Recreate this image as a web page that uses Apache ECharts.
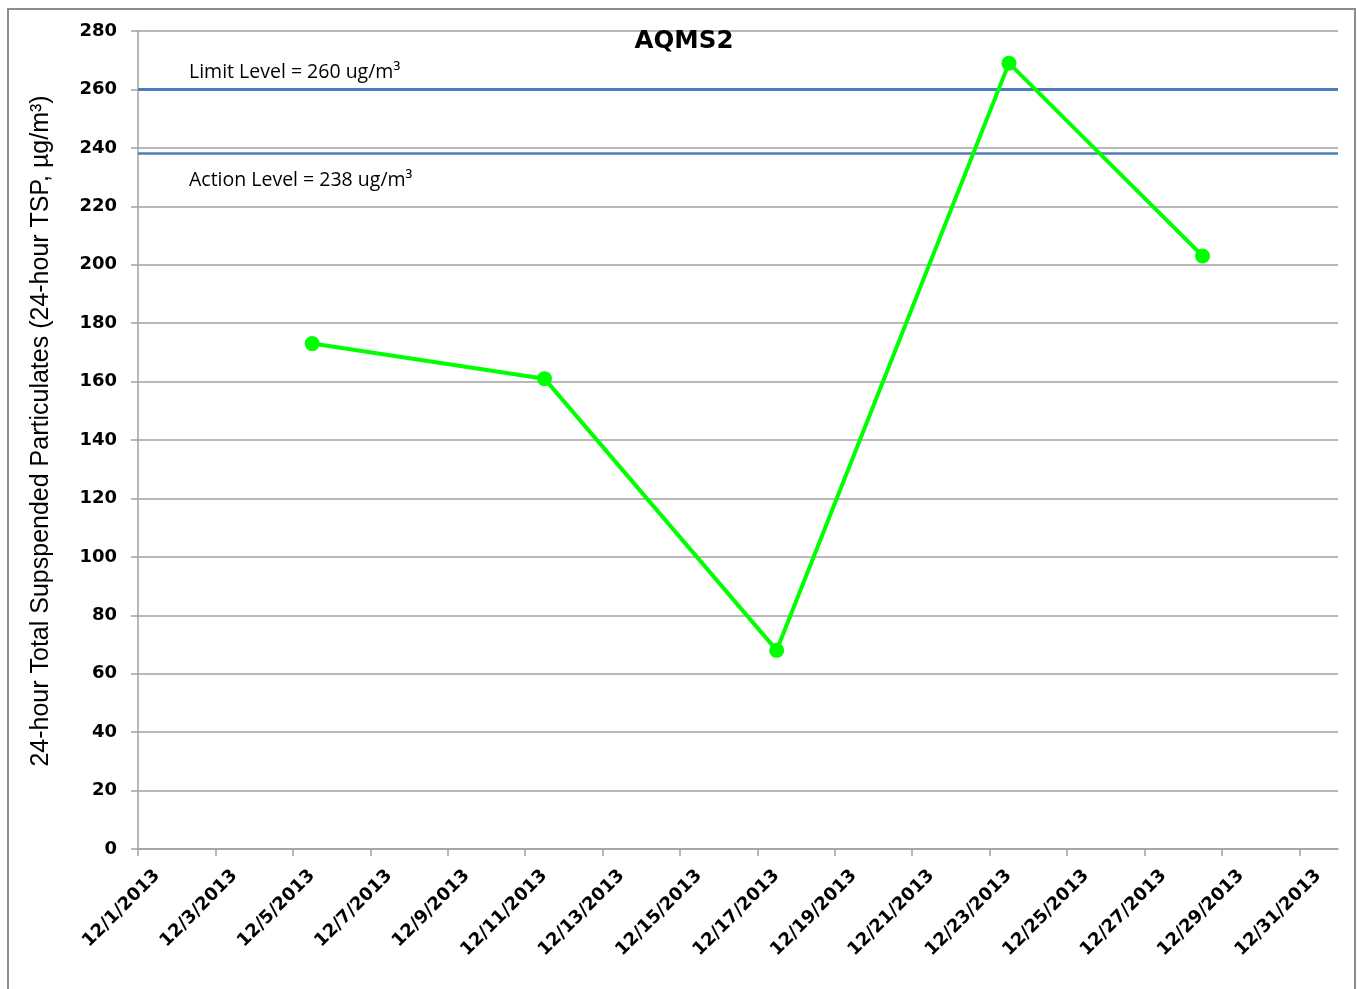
<!DOCTYPE html>
<html>
<head>
<meta charset="utf-8">
<script src="https://cdn.jsdelivr.net/npm/echarts@6/dist/echarts.min.js"></script>
<style>
html,body{margin:0;padding:0;background:#fff;}
#frame{position:absolute;left:7px;top:8px;width:1349px;height:1000px;border:2px solid #8c8c8c;box-sizing:border-box;}
#chart{position:absolute;left:0;top:0;width:1359px;height:989px;}
</style>
</head>
<body>
<div id="frame"></div>
<div id="chart"></div>
<script>
// ---- data ----
const titleText = 'AQMS2';
const sampleDates = ['2013-12-05T12:00:00Z', '2013-12-11T12:00:00Z', '2013-12-17T12:00:00Z', '2013-12-23T12:00:00Z', '2013-12-28T12:00:00Z'];
const tspValues = [173, 161, 68, 269, 203];
const limitLevel = 260;
const actionLevel = 238;
const limitLabel = 'Limit Level = 260 ug/m³';
const actionLabel = 'Action Level = 238 ug/m³';
const axisStartDate = '2013-12-01T00:00:00Z';
const axisEndDay = 31;           // 1 Jan 2014
const xTickDays = [0, 2, 4, 6, 8, 10, 12, 14, 16, 18, 20, 22, 24, 26, 28, 30];
const yTicks = [0, 20, 40, 60, 80, 100, 120, 140, 160, 180, 200, 220, 240, 260, 280];
const yAxisName = '24-hour Total Supspended Particulates (24-hour TSP, µg/m³)';

const DAY = 86400000;
const t0 = Date.parse(axisStartDate);
const dayOf = s => (Date.parse(s) - t0) / DAY;
const fmtDay = d => { const dt = new Date(t0 + d * DAY); return (dt.getUTCMonth() + 1) + '/' + dt.getUTCDate() + '/' + dt.getUTCFullYear(); };
const points = sampleDates.map((d, i) => [dayOf(d), tspValues[i]]);

const chart = echarts.init(document.getElementById('chart'));
chart.setOption({
  backgroundColor: 'transparent',
  animation: false,
  title: {
    text: titleText, left: 679, top: 24, textAlign: 'center',
    textStyle: { fontFamily: 'DejaVu Sans', fontWeight: 'bold', fontSize: 24.5, color: '#000' }
  },
  grid: { left: 138, right: 21, top: 31, bottom: 140, containLabel: false },
  xAxis: {
    type: 'value', min: 0, max: axisEndDay, interval: 2,
    splitLine: { show: false },
    axisLine: { lineStyle: { color: '#a0a0a0', width: 1.5 } },
    axisTick: { show: true, length: 7, inside: false, lineStyle: { color: '#a0a0a0', width: 1.5 }, customValues: xTickDays },
    axisLabel: {
      customValues: xTickDays,
      rotate: 45, margin: 43, padding: [0, -27, 0, 0],
      fontFamily: 'DejaVu Sans', fontWeight: 'bold', fontSize: 18, color: '#000',
      formatter: v => fmtDay(v)
    }
  },
  yAxis: {
    type: 'value', min: yTicks[0], max: yTicks[yTicks.length - 1], interval: 20,
    name: yAxisName, nameLocation: 'middle', nameGap: 84,
    nameTextStyle: { fontFamily: 'Liberation Sans', fontSize: 25, color: '#000', padding: [0, 0, 0, 18] },
    splitLine: { show: true, lineStyle: { color: '#a0a0a0', width: 1.5 } },
    axisLine: { show: true, lineStyle: { color: '#a0a0a0', width: 1.5 } },
    axisTick: { show: true, length: 7, lineStyle: { color: '#a0a0a0', width: 1.5 } },
    axisLabel: { margin: 21, fontFamily: 'DejaVu Sans', fontWeight: 'bold', fontSize: 18, color: '#000' }
  },
  series: [{
    type: 'line',
    data: points,
    symbol: 'circle', symbolSize: 15,
    lineStyle: { color: '#00ff00', width: 4 },
    itemStyle: { color: '#00ff00' },
    z: 5,
    markLine: {
      silent: true, symbol: 'none', z: 3,
      data: [
        { yAxis: limitLevel, lineStyle: { color: '#4a7ebb', width: 3, type: 'solid' },
          label: { show: true, position: 'insideStartTop', formatter: limitLabel, distance: [51, 7],
                   fontFamily: 'Open Sans', fontSize: 19.5, color: '#000' } },
        { yAxis: actionLevel, lineStyle: { color: '#4a7ebb', width: 2.5, type: 'solid' },
          label: { show: true, position: 'insideStartBottom', formatter: actionLabel, distance: [51, 17],
                   fontFamily: 'Open Sans', fontSize: 19.5, color: '#000' } }
      ]
    }
  }]
});
</script>
</body>
</html>
